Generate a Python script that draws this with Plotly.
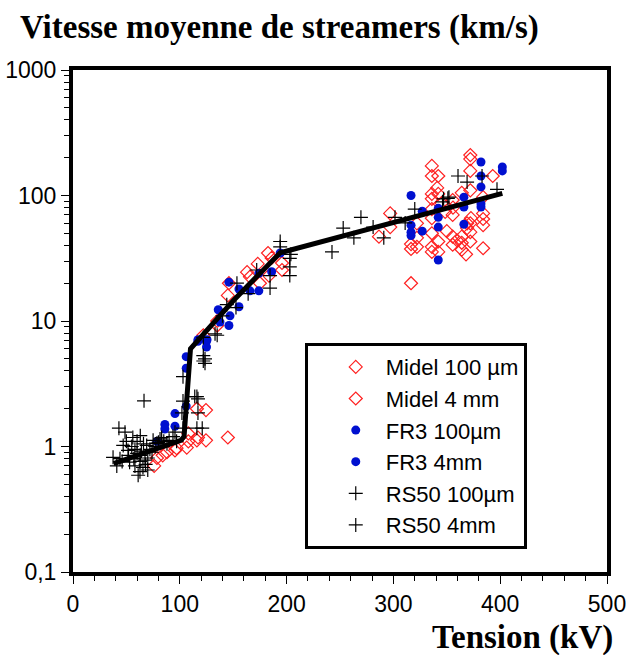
import plotly.graph_objects as go

# ---- data (Tension kV, vitesse km/s) ----
midel_100_x = [76, 78.6, 84, 88, 95.5, 97, 106.5, 108, 108, 116, 117, 124.5, 116, 124.5, 145,
               122, 135, 135, 146, 145, 163, 165.7, 173, 175, 182.6, 183.5, 186, 195.7, 195.7]
midel_100_y = [0.70, 0.81, 0.85, 0.90, 0.93, 0.97, 0.98, 1.10, 1.27, 1.12, 1.18, 1.12, 2.0, 1.95, 1.18,
               7.7, 10, 9.2, 20, 16, 24.5, 22.5, 28.5, 20, 34.8, 23, 31.8, 29, 25.5]
midel_4_x = [286.5, 297, 297, 316.5, 316.5, 316.5, 322, 322, 336, 336, 342, 341, 336, 336, 342, 336, 336,
             336, 336, 336, 342, 342, 348.5, 355.5, 355.5, 355.5, 364, 364, 364, 359.5, 369, 372, 372, 372,
             372, 372, 372.6, 384, 384, 384, 384, 393, 355.5, 364, 355.8, 369, 372, 372, 384, 322, 345, 350, 368]
midel_4_y = [47, 72, 56, 20, 41, 37.5, 46, 39, 172, 143, 143, 115, 103, 94, 103, 78, 66,
             50, 39, 35.5, 35.5, 43, 74, 70, 47, 40.5, 47, 42, 37, 44, 55, 51, 110, 157,
             195, 210, 66, 72, 58, 38, 97, 143, 92, 105, 80, 60, 60, 43, 65, 60, 87, 52, 34]

fr3_100_x = [78.6, 86, 86, 95.5, 95.5, 106, 106, 106, 117, 117, 125, 125, 125.5, 136, 137.6, 147, 146,
             146, 155.4, 155.4, 165.7, 174, 174, 186, 194]
fr3_100_y = [1.1, 1.5, 1.38, 1.45, 1.83, 5.2, 4.2, 2.1, 6.9, 7.1, 6.9, 6.2, 7.1, 12.3, 9.8, 11, 9.2,
             20.4, 18, 13, 17.4, 17.4, 24, 24.7, 34.8]
fr3_4_x = [316.5, 316.5, 316.5, 316.5, 327, 327, 342, 342, 342, 342, 366, 366, 366, 382, 382, 382, 382,
           382, 402, 402]
fr3_4_y = [100, 58, 51, 48, 75, 52, 79, 67, 56, 30.6, 97, 81, 59, 185, 143, 117, 86, 81, 169, 157]

rs50_100_x = [66.5, 43, 37.5, 48.7, 56, 47, 51.5, 60, 62.7, 62.7, 61, 65.5, 69, 75, 78.6, 74, 70, 53, 46,
              41, 58, 67.4, 81.5, 93.6, 95.5, 55, 58, 64, 66, 72, 77, 80, 85, 88, 52, 57, 63, 44, 50,
              60, 68, 70, 83, 90, 97, 63]
rs50_100_y = [2.31, 1.4, 0.82, 1.30, 1.18, 1.02, 0.93, 0.88, 0.76, 0.63, 0.59, 0.68, 1.02, 1.12, 1.06,
              0.9, 0.81, 0.75, 0.76, 0.70, 0.70, 0.78, 1.15, 1.2, 1.3, 1.0, 0.95, 0.92, 1.05, 0.95, 1.0,
              1.08, 1.1, 1.05, 0.85, 0.8, 0.85, 0.8, 1.1, 1.1, 0.72, 0.65, 1.18, 1.12, 1.1, 1.22]
rs50_4_x = [103, 103, 102, 117, 117, 116, 122, 122, 133, 122, 103, 114, 121,
            123.6, 123.6, 116, 135, 144, 153.5, 164, 172, 184.5, 194, 194, 203, 203, 203, 152.6, 140,
            204, 184.5, 242.5, 253, 263, 269.6, 281, 291, 301.5, 311, 320, 347, 352, 360.5, 369, 383,
            397, 351, 346]
rs50_4_y = [3.6, 2.3, 1.85, 2.4, 1.85, 1.4, 5.3, 4.8, 7.9, 7.4, 1.4, 2.5, 1.4,
            5.0, 4.6, 2.5, 7.7, 13.5, 20, 16.5, 25.5, 18.3, 43, 39, 31.5, 27, 23, 12.8, 11,
            34, 23, 35.5, 55, 46, 67, 56, 46, 67, 60.5, 78, 94, 97, 143, 128, 143,
            112, 95, 89]

fit_x = [38, 101, 104, 110, 150, 194, 402]
fit_y = [0.73, 1.12, 1.2, 6.0, 14.5, 35, 104]

x_ticks = [0, 100, 200, 300, 400, 500]
y_tickvals = [0.1, 1, 10, 100, 1000]
y_ticktext = ["0,1", "1", "10", "100", "1000"]

minor_y = [m * 10 ** e for e in range(-1, 3) for m in range(2, 10)]

TICK_FONT = dict(family="Arial, Liberation Sans, sans-serif", size=23, color="black")

fig = go.Figure()

diamond = dict(symbol="diamond-open", size=10, color="#ff2020", line=dict(width=1.2, color="#ff2020"))
dot = dict(symbol="circle", size=9, color="#0010d0", line=dict(width=0))
cross = dict(symbol="cross-thin", size=10, line=dict(width=1.2, color="black"), color="black")

fig.add_trace(go.Scatter(x=midel_100_x, y=midel_100_y, mode="markers", name="Midel 100 µm", marker=diamond))
fig.add_trace(go.Scatter(x=midel_4_x, y=midel_4_y, mode="markers", name="Midel 4 mm", marker=diamond))
fig.add_trace(go.Scatter(x=fr3_100_x, y=fr3_100_y, mode="markers", name="FR3 100µm", marker=dot))
fig.add_trace(go.Scatter(x=fr3_4_x, y=fr3_4_y, mode="markers", name="FR3 4mm", marker=dot))
fig.add_trace(go.Scatter(x=rs50_100_x, y=rs50_100_y, mode="markers", name="RS50 100µm", marker=cross))
fig.add_trace(go.Scatter(x=rs50_4_x, y=rs50_4_y, mode="markers", name="RS50 4mm", marker=cross))
fig.add_trace(go.Scatter(x=fit_x, y=fit_y, mode="lines", showlegend=False,
                         line=dict(color="black", width=5)))

fig.update_layout(
    width=626, height=655,
    margin=dict(l=73, r=19, t=70, b=83, autoexpand=False),
    plot_bgcolor="white", paper_bgcolor="white",
    showlegend=True,
    legend=dict(
        x=0.434, y=0.456, xanchor="left", yanchor="top",
        bgcolor="white", bordercolor="black", borderwidth=3,
        font=dict(family="Arial, Liberation Sans, sans-serif", size=22, color="black"),
        indentation=18, itemwidth=50,
    ),
    xaxis=dict(
        range=[0, 500], tickvals=x_ticks, ticks="outside", ticklen=8, tickwidth=1,
        tickcolor="black", showline=True, linecolor="black", linewidth=4, mirror=True,
        showgrid=False, zeroline=False, tickfont=TICK_FONT, automargin=False,
        ticklabeloverflow="allow",
        minor=dict(dtick=20, tick0=0, ticks="outside", ticklen=5, tickwidth=1, tickcolor="black",
                   showgrid=False),
    ),
    yaxis=dict(
        type="log", range=[-1, 3], tickvals=y_tickvals, ticktext=y_ticktext,
        ticks="outside", ticklen=8, tickwidth=1, tickcolor="black",
        showline=True, linecolor="black", linewidth=4, mirror=True,
        showgrid=False, zeroline=False, tickfont=TICK_FONT, automargin=False,
        ticklabeloverflow="allow",
        minor=dict(tickvals=minor_y, ticks="outside", ticklen=5, tickwidth=1, tickcolor="black",
                   showgrid=False),
    ),
    annotations=[
        dict(text="<b>Vitesse moyenne de streamers (km/s)</b>", xref="paper", yref="paper",
             x=-0.103, y=1.084, xanchor="left", yanchor="middle", showarrow=False,
             font=dict(family="Times New Roman, Liberation Serif, serif", size=33, color="black")),
        dict(text="<b>Tension (kV)</b>", xref="paper", yref="paper",
             x=1.015, y=-0.131, xanchor="right", yanchor="middle", showarrow=False,
             font=dict(family="Times New Roman, Liberation Serif, serif", size=33, color="black")),
    ],
)

fig.write_html("out.html", config={"displayModeBar": False},
               post_script="document.body.style.margin='0';document.body.style.padding='0';")
